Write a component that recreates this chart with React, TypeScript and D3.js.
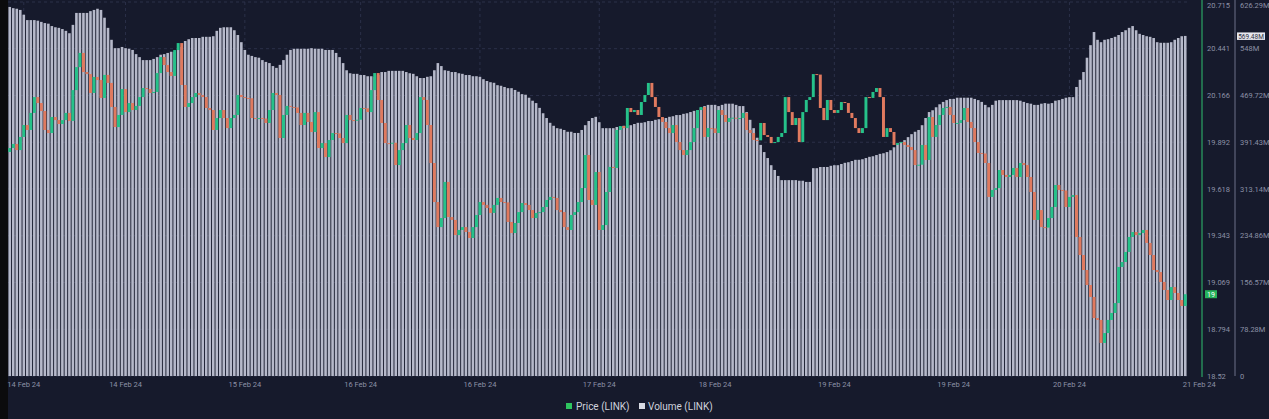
import React, { useEffect } from 'react';
import * as d3 from 'd3';

const priceTicks = [20.715, 20.441, 20.166, 19.892, 19.618, 19.343, 19.069, 18.794, 18.52];
const priceTickLabels = ['20.715', '20.441', '20.166', '19.892', '19.618', '19.343', '19.069', '18.794', '18.52'];
const volumeTicks = [626.29, 548, 469.72, 391.43, 313.14, 234.86, 156.57, 78.28, 0];
const volumeTickLabels = ['626.29M', '548M', '469.72M', '391.43M', '313.14M', '234.86M', '156.57M', '78.28M', '0'];
const xTickIndex = [4, 33, 67, 100, 134, 168, 201, 235, 269, 302, 339];
const xTickLabels = ['14 Feb 24', '14 Feb 24', '15 Feb 24', '16 Feb 24', '16 Feb 24', '17 Feb 24', '18 Feb 24', '19 Feb 24', '19 Feb 24', '20 Feb 24', '21 Feb 24'];

const firstOpen = 19.835;
const closes = [
  19.858, 19.882, 19.846, 19.923, 19.993, 19.964, 20.064, 20.157, 20.122, 20.075, 19.964, 19.946, 20.040, 20.022, 19.999, 20.022, 20.064, 20.017, 20.198, 20.333,
  20.416, 20.304, 20.292, 20.181, 20.275, 20.257, 20.152, 20.287, 20.240, 20.099, 19.981, 20.052, 20.204, 20.069, 20.122, 20.081, 20.105, 20.157, 20.210, 20.204,
  20.181, 20.187, 20.298, 20.392, 20.345, 20.304, 20.281, 20.433, 20.474, 20.228, 20.099, 20.122, 20.157, 20.181, 20.169, 20.157, 20.093, 20.081, 19.964, 20.034,
  20.081, 20.034, 19.975, 20.034, 20.052, 20.169,
  20.157, 20.152, 20.150, 20.034, 20.028, 20.034, 20.031, 20.005, 20.081, 20.181, 20.169, 19.917, 20.052, 20.105, 20.099, 20.096, 20.064, 19.993, 20.064, 20.011,
  19.952, 20.069, 19.858, 19.887, 19.805, 19.905, 19.946, 19.944, 19.917, 19.887, 20.052, 20.022, 20.020, 20.024, 20.093, 20.091, 20.069, 20.198, 20.298, 20.140,
  20.005, 19.887, 19.885, 19.889, 19.758, 19.846, 19.887, 19.993, 19.917, 19.905, 19.946, 20.157, 20.140, 19.993, 19.770, 19.541, 19.394, 19.447, 19.659, 19.453,
  19.436, 19.347, 19.377, 19.394, 19.365, 19.330, 19.394, 19.465,
  19.541, 19.524, 19.506, 19.477, 19.524, 19.565, 19.541, 19.539, 19.424, 19.359, 19.418, 19.482, 19.535, 19.524, 19.494, 19.447, 19.477, 19.482, 19.512, 19.553,
  19.571, 19.565, 19.494, 19.482, 19.394, 19.377, 19.465, 19.482, 19.541, 19.623, 19.817, 19.553, 19.524, 19.717, 19.377, 19.406, 19.600, 19.747, 19.741, 19.964,
  19.987, 19.975, 20.093, 20.069, 20.081, 20.052, 20.128, 20.169, 20.240, 20.157, 20.099, 20.040, 20.011, 19.975, 19.946, 19.993, 19.893, 19.846, 19.817, 19.846,
  19.893, 19.975, 20.081, 20.099, 19.923, 19.975, 19.973, 19.946,
  20.081, 20.052, 20.011, 20.034, 20.036, 20.032, 20.034, 20.064, 19.964, 19.946, 19.905, 19.903, 20.005, 19.934, 19.923, 19.887, 19.893, 19.923, 19.946, 20.157,
  20.069, 19.993, 20.034, 19.893, 20.069, 20.140, 20.157, 20.292, 20.289, 20.093, 20.022, 20.140, 20.081, 20.064, 20.081, 20.128, 20.122, 20.064, 20.034, 19.975,
  19.946, 19.975, 20.157, 20.152, 20.187, 20.210, 20.157, 19.923, 19.975, 19.952, 19.876, 19.887, 19.893, 19.876, 19.864, 19.846, 19.758, 19.760, 19.876, 19.788,
  20.040, 19.923, 19.993, 20.052, 20.093, 20.099, 20.052, 20.005,
  20.005, 20.022, 20.093, 20.011, 19.975, 19.893, 19.829, 19.826, 19.770, 19.571, 19.612, 19.623, 19.729, 19.700, 19.688, 19.700, 19.741, 19.688, 19.770, 19.758,
  19.688, 19.600, 19.436, 19.494, 19.394, 19.391, 19.447, 19.512, 19.641, 19.612, 19.609, 19.512, 19.571, 19.582, 19.336, 19.230, 19.142, 19.054, 18.984, 18.860,
  18.849, 18.714, 18.772, 18.849, 18.890, 18.948, 19.160, 19.189, 19.248, 19.336, 19.365, 19.347, 19.359, 19.377, 19.301, 19.230, 19.142, 19.130, 19.072, 19.025,
  18.966, 19.042, 19.007, 18.966, 18.931, 19.000,
];

const volumes = [
  618, 616, 615, 613, 605, 596, 596, 596, 595, 593, 591, 590, 586, 584, 583, 581, 578, 574, 588, 608,
  608, 608, 608, 611, 613, 615, 613, 600, 583, 563, 549, 549, 551, 549, 548, 546, 539, 534, 529, 529,
  529, 531, 534, 538, 539, 541, 543, 543, 546, 551, 561, 564, 566, 566, 566, 568, 568, 568, 569, 578,
  583, 584, 584, 584, 579, 571, 559, 546, 538, 536, 534, 533, 529, 526, 524, 519, 516, 521, 529, 538,
  546, 548, 548, 548, 548, 548, 549, 548, 548, 548, 546, 546, 546, 541, 534, 524, 512, 507, 506, 506,
  504, 504, 502, 502, 501, 504, 509, 509, 511, 511, 511, 511, 511, 509, 507, 506, 502, 499, 499, 501,
  502, 512, 524, 519, 512, 511, 509, 509, 507, 506, 504, 504, 502, 502, 501, 497, 494, 492, 491, 487,
  486, 484, 482, 482, 479, 476, 472, 471, 466, 461, 457, 449, 440, 432, 424, 419, 415, 414, 412, 409,
  409, 407, 407, 412, 420, 427, 432, 434, 425, 415, 415, 415, 415, 417, 417, 419, 419, 420, 422, 424,
  424, 425, 427, 427, 429, 430, 432, 432, 434, 435, 437, 437, 439, 440, 442, 444, 445, 449, 452, 454,
  454, 454, 452, 454, 456, 456, 456, 454, 452, 452, 442, 429, 415, 399, 387, 375, 365, 353, 345, 335,
  328, 328, 328, 328, 328, 327, 327, 325, 325, 348, 348, 350, 350, 350, 352, 353, 353, 355, 357, 358,
  360, 362, 362, 363, 365, 367, 368, 370, 372, 373, 375, 378, 383, 388, 392, 395, 400, 405, 409, 412,
  420, 432, 442, 445, 450, 455, 459, 462, 464, 464, 466, 466, 466, 466, 466, 464, 462, 459, 454, 450,
  454, 461, 462, 462, 462, 462, 462, 462, 461, 459, 457, 456, 454, 454, 456, 457, 456, 457, 461, 462,
  464, 466, 467, 467, 484, 496, 509, 533, 554, 576, 563, 559, 563, 564, 566, 568, 571, 576, 579, 583,
  586, 579, 573, 571, 569, 568, 566, 559, 558, 558, 558, 559, 563, 566, 569, 569.48,
];

const W = 1269;
const H = 419;
const PLOT_L = 8;
const PLOT_R = 1187;
const PLOT_T = 2;
const PLOT_B = 376;
const BG = '#161a2c';
const UP = '#26c28a';
const DOWN = '#e07a5f';
const VOL = '#b6b9ca';
const AXIS_TEXT = '#8c91a6';
const FONT = 'Roboto, "Noto Sans", sans-serif';

export default function App() {
  useEffect(() => {
    document.body.style.margin = '0';
    document.body.style.background = BG;
  }, []);

  const n = closes.length;
  const x = d3.scaleLinear().domain([-0.5, n - 0.5]).range([PLOT_L, PLOT_R]);
  const step = x(1) - x(0);
  const yP = d3.scaleLinear().domain([18.52, 20.715]).range([PLOT_B, PLOT_T]);
  const yV = d3.scaleLinear().domain([0, 626.29]).range([PLOT_B, PLOT_T]);

  const opens = [firstOpen, ...closes.slice(0, -1)];
  const barW = step * 0.74;
  const bodyW = step * 0.84;

  const lastClose = closes[n - 1];
  const lastVol = volumes[volumes.length - 1];
  const labelY = (y: number) => Math.max(y, 5);

  return (
    <svg width={W} height={H} style={{ display: 'block', background: BG }} fontFamily={FONT}>
      <rect x={0} y={0} width={W} height={H} fill={BG} />
      <rect x={0} y={0} width={PLOT_L} height={H} fill="#0b0b0d" />

      {/* grid */}
      {priceTicks.map((t, i) => (
        <line key={'hg' + i} x1={PLOT_L} x2={PLOT_R} y1={yP(t)} y2={yP(t)} stroke="#2b3049" strokeDasharray="3,3" strokeWidth={1} />
      ))}
      {xTickIndex.filter((t) => x(t) < PLOT_R).map((t, i) => (
        <line key={'vg' + i} x1={x(t)} x2={x(t)} y1={PLOT_T} y2={PLOT_B} stroke="#2b3049" strokeDasharray="3,3" strokeWidth={1} />
      ))}

      {/* volume */}
      {volumes.map((v, i) => (
        <rect key={'v' + i} x={x(i) - barW / 2} y={yV(v)} width={barW} height={PLOT_B - yV(v)} fill={VOL} />
      ))}

      {/* candles */}
      {closes.map((c, i) => {
        const o = opens[i];
        const up = c >= o;
        const top = yP(Math.max(o, c));
        const bot = yP(Math.min(o, c));
        const h = Math.max(1, bot - top);
        return (
          <rect key={'c' + i} x={x(i) - bodyW / 2} y={top} width={bodyW} height={h} fill={up ? UP : DOWN} />
        );
      })}

      {/* axes */}
      <line x1={1202} x2={1202} y1={0} y2={377} stroke="#2fbf6f" strokeWidth={1} />
      <line x1={1235} x2={1235} y1={0} y2={376} stroke="#6d7189" strokeWidth={1} />

      {priceTicks.map((t, i) => (
        <text key={'pt' + i} x={1207} y={labelY(yP(t))} dy="0.35em" fontSize={7.5} fill={AXIS_TEXT}>
          {priceTickLabels[i]}
        </text>
      ))}
      {volumeTicks.map((t, i) => (
        <text key={'vt' + i} x={1240} y={labelY(yV(t))} dy="0.35em" fontSize={7.5} fill={AXIS_TEXT}>
          {volumeTickLabels[i]}
        </text>
      ))}

      {/* last value badges */}
      <rect x={1205} y={yP(lastClose) - 4} width={12} height={8} fill="#27b35a" />
      <text x={1211} y={yP(lastClose)} dy="0.35em" fontSize={7} fill="#ffffff" textAnchor="middle">19</text>
      <rect x={1237} y={yV(lastVol) - 3.5} width={28} height={7.5} fill="#e6e7ee" />
      <text x={1251} y={yV(lastVol) + 0.3} dy="0.35em" fontSize={6.5} fill="#2a2d3a" textAnchor="middle">569.48M</text>

      {/* x ticks */}
      {xTickIndex.map((t, i) => (
        <text key={'xt' + i} x={x(t)} y={384} dy="0.35em" fontSize={7.5} fill={AXIS_TEXT} textAnchor="middle">
          {xTickLabels[i]}
        </text>
      ))}

      {/* legend */}
      <rect x={566} y={403} width={6} height={6} fill="#2ec45f" />
      <text x={576} y={406} dy="0.35em" fontSize={10} fill="#cfd2dc">Price (LINK)</text>
      <rect x={639} y={403} width={6} height={6} fill="#d8dae3" />
      <text x={648} y={406} dy="0.35em" fontSize={10} fill="#cfd2dc">Volume (LINK)</text>
    </svg>
  );
}
